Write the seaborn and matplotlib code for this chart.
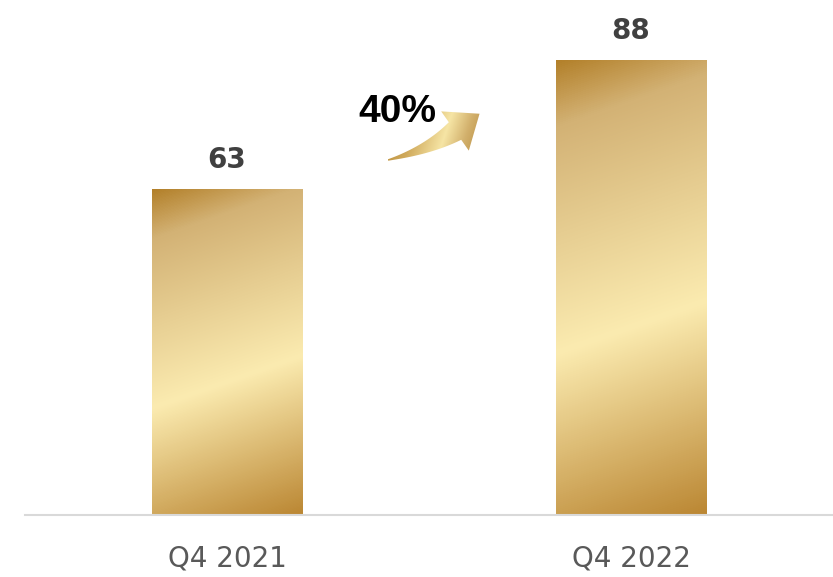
import numpy as np
import pandas as pd
import matplotlib
matplotlib.use("Agg")
import matplotlib.pyplot as plt
from matplotlib.colors import LinearSegmentedColormap
from matplotlib.patches import Polygon
import seaborn as sns

# Data
quarters = ["Q4 2021", "Q4 2022"]
values = [63, 88]
growth_label = "40%"

sns.set_style("white")
plt.rcParams['font.family'] = ['DejaVu Sans']

gold = LinearSegmentedColormap.from_list(
    "gold",
    [(0.0, "#b3802a"), (0.13, "#d3b275"), (0.58, "#fbebb0"), (1.0, "#bb8733")])
arrow_gold = LinearSegmentedColormap.from_list(
    "arrow_gold",
    [(0.0, "#b88a34"), (0.3, "#d0aa5c"), (0.6, "#f6e5a5"),
     (0.8, "#d2b06c"), (1.0, "#b88d40")])

df = pd.DataFrame({"quarter": quarters, "value": values})

W, H = 833, 577
fig = plt.figure(figsize=(W / 100, H / 100), dpi=100)
ax = fig.add_axes([0.030, 0.1075, 0.970, 0.8925])

sns.barplot(data=df, x="quarter", y="value", ax=ax, width=0.372,
            color="#d9b66f", saturation=1)

ax.set_xlim(-0.5, 1.5)
ax.set_ylim(0, 99.6)


def gradient_fill(patch, slope=0.35):
    # paint a tilted gold gradient inside the patch
    bb = patch.get_window_extent()
    w, h = max(int(bb.width), 2), max(int(bb.height), 2)
    u = np.linspace(0, 1, w)[None, :]
    v = np.linspace(0, 1, h)[:, None]
    t = (v * h - slope * (1 - u) * w) / h
    t = (t - t.min()) / (t.max() - t.min())
    x0, y0 = patch.get_x(), patch.get_y()
    ext = [x0, x0 + patch.get_width(), y0, y0 + patch.get_height()]
    im = ax.imshow(t, cmap=gold, extent=ext, origin="upper",
                   aspect="auto", zorder=patch.get_zorder() + 0.1)
    im.set_clip_path(patch)


fig.canvas.draw()
for bar in ax.patches[:len(values)]:
    gradient_fill(bar)

# value labels
for bar, val in zip(ax.patches, values):
    ax.annotate(str(val), (bar.get_x() + bar.get_width() / 2, bar.get_height()),
                xytext=(0, 15), textcoords="offset points", ha="center",
                va="baseline", fontsize=20, fontweight="bold", color="#404040")

# curved growth arrow (decoration), built in pixel space
p0, c, p2 = np.array([388, 160]), np.array([428, 150]), np.array([455, 131])
s = np.linspace(0, 1, 40)[:, None]
centre = (1 - s) ** 2 * p0 + 2 * (1 - s) * s * c + s ** 2 * p2
tang = 2 * (1 - s) * (c - p0) + 2 * s * (p2 - c)
tang /= np.linalg.norm(tang, axis=1, keepdims=True)
norm = np.column_stack([-tang[:, 1], tang[:, 0]])
half = (1.5 + 20 * s ** 1.1) / 2
upper = centre - norm * half
lower = centre + norm * half
d = tang[-1]
n = norm[-1]
tip = p2 + d * 30
head_a = p2 - n * 24
head_b = p2 + n * 24
outline = np.vstack([upper, head_a, tip, head_b, lower[::-1]])
outline_in = np.column_stack([outline[:, 0] / 100, (H - outline[:, 1]) / 100])
arrow = Polygon(outline_in, closed=True, transform=fig.dpi_scale_trans,
                facecolor="none", edgecolor="none")
ax.add_patch(arrow)
inv = ax.transData.inverted()
(ax0, ay0) = inv.transform((outline[:, 0].min(), H - outline[:, 1].max()))
(ax1, ay1) = inv.transform((outline[:, 0].max(), H - outline[:, 1].min()))
gx = np.linspace(0, 1, 120)[None, :]
gy = np.linspace(0, 1, 80)[:, None]
g = np.clip(0.85 * gx + 0.15 * gy, 0, 1)
aim = ax.imshow(g, cmap=arrow_gold, extent=[ax0, ax1, ay0, ay1], origin="upper",
                aspect="auto", zorder=4)
aim.set_clip_path(arrow)

ax.text(0.422, 78.0, growth_label, ha="center", va="center", fontsize=28,
        fontweight="bold", color="black", zorder=5,
        family=['Liberation Sans', 'DejaVu Sans'])

ax.set_xlim(-0.5, 1.5)
ax.set_ylim(0, 99.6)
ax.set_xlabel("")
ax.set_ylabel("")
ax.set_yticks([])
ax.tick_params(axis="x", length=0, pad=21, labelsize=20, labelcolor="#595959")
for side in ["left", "right", "top"]:
    ax.spines[side].set_visible(False)
ax.spines["bottom"].set_color("#d9d9d9")
ax.spines["bottom"].set_linewidth(1.5)

fig.savefig("out.png", dpi=100)
